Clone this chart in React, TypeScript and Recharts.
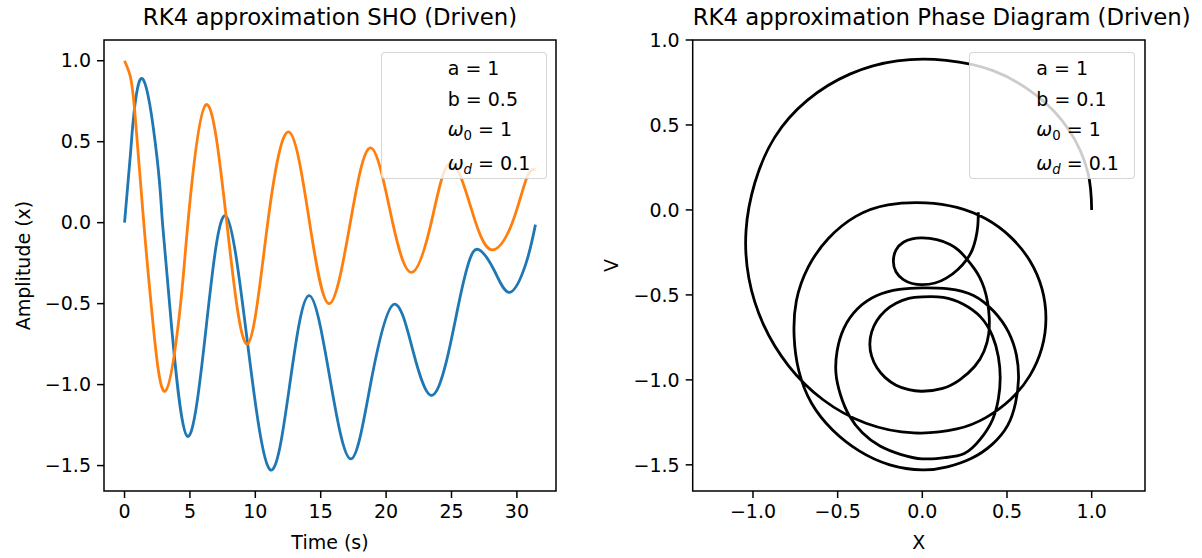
import { LineChart, Line, XAxis, YAxis, ReferenceArea } from 'recharts';

const FONT = '"DejaVu Sans", sans-serif';

// left panel: time series
const posTime = [0, 0.42, 0.8, 1.47, 2.15, 3.1, 4.22, 4.85, 6.23, 7.82, 9.39, 10.95, 12.58, 14.15, 15.66, 17.26, 18.85, 20.5, 21.96, 23.45, 25.0, 26.85, 28.25, 29.65, 30.75, 31.42];
const posAmp = [1.0, 0.91, 0.67, 0.0, -0.6, -1.041, -0.55, 0.0, 0.728, 0.0, -0.749, 0.0, 0.56, 0.0, -0.5, 0.0, 0.461, 0.0, -0.307, 0.0, 0.37, 0.0, -0.167, 0.0, 0.276, 0.327];

const velTime = [0, 0.47, 0.7, 1.44, 2.5, 2.9, 3.55, 4.8, 6.25, 7.72, 9.4, 11.12, 12.65, 14.1, 15.68, 17.29, 18.85, 20.55, 22.05, 23.41, 24.6, 25.5, 26.3, 27.1, 28.3, 29.47, 30.7, 31.42];
const velAmp = [0, 0.44, 0.66, 0.883, 0.39, 0.0, -0.6, -1.319, -0.64, 0.043, -0.74, -1.525, -0.99, -0.45, -0.95, -1.459, -0.98, -0.506, -0.79, -1.066, -0.86, -0.52, -0.25, -0.167, -0.3, -0.43, -0.25, -0.012];

// right panel: phase trajectory (X, V), in drawing order
const phaseX = [
  1.0, 0.978, 0.865, 0.67, 0.421, 0.141, -0.148, -0.428, -0.678, -0.872, -0.989, -1.041, -1.024, -0.938, -0.79, -0.586, -0.333, -0.051,
  0.204, 0.375, 0.522, 0.635, 0.706, 0.73, 0.706, 0.635, 0.522, 0.375, 0.204, 0.02,
  -0.203, -0.393, -0.555, -0.674, -0.744, -0.757, -0.729, -0.654, -0.53, -0.373, -0.192, 0.0,
  0.148, 0.288, 0.411, 0.504, 0.551, 0.568, 0.556, 0.509, 0.423, 0.302, 0.155, 0.0,
  -0.136, -0.268, -0.384, -0.464, -0.503, -0.51, -0.483, -0.433, -0.354, -0.25, -0.129, 0.0,
  0.13, 0.248, 0.345, 0.414, 0.449, 0.46, 0.449, 0.414, 0.345, 0.242, 0.123, 0.0,
  -0.08, -0.155, -0.219, -0.268, -0.299, -0.31, -0.299, -0.268, -0.219, -0.155, -0.08, 0.0,
  0.12, 0.223, 0.31, 0.365, 0.392, 0.395, 0.385, 0.365, 0.34, 0.31, 0.262, 0.215, 0.164, 0.085, 0.0,
  -0.06, -0.112, -0.155, -0.171, -0.155, -0.112, -0.06, 0.0, 0.075, 0.144, 0.21, 0.262, 0.295, 0.315, 0.327, 0.331,
];
const phaseV = [
  0.0, 0.219, 0.472, 0.677, 0.818, 0.88, 0.877, 0.799, 0.646, 0.427, 0.16, -0.121, -0.404, -0.675, -0.917, -1.117, -1.255, -1.312,
  -1.289, -1.222, -1.114, -0.975, -0.812, -0.637, -0.462, -0.299, -0.16, -0.052, 0.015, 0.042,
  0.03, -0.038, -0.168, -0.337, -0.536, -0.745, -0.948, -1.138, -1.295, -1.418, -1.5, -1.53,
  -1.512, -1.463, -1.381, -1.268, -1.133, -0.995, -0.856, -0.719, -0.598, -0.504, -0.465, -0.459,
  -0.468, -0.504, -0.583, -0.698, -0.829, -0.962, -1.089, -1.208, -1.311, -1.389, -1.438, -1.465,
  -1.458, -1.434, -1.346, -1.236, -1.113, -0.989, -0.864, -0.741, -0.631, -0.555, -0.515, -0.512,
  -0.521, -0.549, -0.593, -0.651, -0.718, -0.79, -0.862, -0.929, -0.987, -1.031, -1.058, -1.067,
  -1.05, -0.998, -0.92, -0.83, -0.73, -0.63, -0.54, -0.46, -0.4, -0.35, -0.288, -0.238, -0.203, -0.175, -0.165,
  -0.17, -0.19, -0.235, -0.302, -0.365, -0.41, -0.433, -0.44, -0.43, -0.4, -0.35, -0.292, -0.235, -0.17, -0.1, -0.014,
];

const timeTicks = [0, 5, 10, 15, 20, 25, 30];
const ampTicks = [-1.5, -1.0, -0.5, 0.0, 0.5, 1.0];
const phaseXTicks = [-1.0, -0.5, 0.0, 0.5, 1.0];
const phaseVTicks = [-1.5, -1.0, -0.5, 0.0, 0.5, 1.0];

const shoParams = [
  { sym: 'a', value: '1' },
  { sym: 'b', value: '0.5' },
  { sym: 'ω', sub: '0', value: '1' },
  { sym: 'ω', sub: 'd', value: '0.1' },
];
const phaseParams = [
  { sym: 'a', value: '1' },
  { sym: 'b', value: '0.1' },
  { sym: 'ω', sub: '0', value: '1' },
  { sym: 'ω', sub: 'd', value: '0.1' },
];

const posData = posTime.map((t, i) => ({ t, y: posAmp[i] }));
const velData = velTime.map((t, i) => ({ t, y: velAmp[i] }));
const phaseData = phaseX.map((x, i) => ({ x, v: phaseV[i] }));

const fmt1 = (v: number) => v.toFixed(1).replace('-', '\u2212');
const fmt0 = (v: number) => String(v);

const tickStyle = { fill: '#000', fontSize: 19, fontFamily: FONT };
const tickLine = { stroke: '#000', strokeWidth: 1.5 };

function Title({ left, width, text }: { left: number; width: number; text: string }) {
  return (
    <div
      style={{
        position: 'absolute',
        left,
        top: 6,
        width,
        textAlign: 'center',
        fontSize: 22.8,
        lineHeight: 1,
        whiteSpace: 'nowrap',
        color: '#000',
      }}
    >
      {text}
    </div>
  );
}

function ParamBox({ left, params }: { left: number; params: { sym: string; sub?: string; value: string }[] }) {
  return (
    <div
      style={{
        position: 'absolute',
        left,
        top: 51.7,
        width: 166,
        height: 127.6,
        boxSizing: 'border-box',
        background: 'rgba(255,255,255,0.8)',
        border: '1px solid rgba(204,204,204,0.8)',
        borderRadius: 4,
        paddingLeft: 66,
        paddingTop: 0.5,
        fontSize: 19,
        lineHeight: '30.5px',
        color: '#000',
        whiteSpace: 'nowrap',
      }}
    >
      {params.map((p, i) => (
        <div key={i}>
          <span style={{ fontStyle: p.sub ? 'italic' : 'normal' }}>{p.sym}</span>
          {p.sub && (
            <span
              style={{
                fontSize: '0.7em',
                position: 'relative',
                top: '0.3em',
                fontStyle: p.sub === 'd' ? 'italic' : 'normal',
              }}
            >
              {p.sub}
            </span>
          )}
          {' = ' + p.value}
        </div>
      ))}
    </div>
  );
}

export default function App() {
  return (
    <div
      style={{
        position: 'absolute',
        left: 0,
        top: 0,
        width: 1202,
        height: 558,
        background: '#fff',
        fontFamily: FONT,
        overflow: 'hidden',
      }}
    >
      {/* Time series */}
      <div style={{ position: 'absolute', left: 0, top: 0 }}>
        <LineChart width={600} height={558} margin={{ top: 40, right: 44, bottom: 0, left: 0 }}>
          <XAxis
            type="number"
            dataKey="t"
            domain={[-1.57, 32.99]}
            allowDataOverflow
            ticks={timeTicks}
            tickFormatter={fmt0}
            axisLine={false}
            tickLine={tickLine}
            tickSize={7}
            tickMargin={7}
            tick={tickStyle}
            height={67}
            label={{ value: 'Time (s)', position: 'insideBottom', offset: 9, fill: '#000', fontSize: 19 }}
          />
          <YAxis
            type="number"
            domain={[-1.657, 1.128]}
            allowDataOverflow
            ticks={ampTicks}
            tickFormatter={fmt1}
            axisLine={false}
            tickLine={tickLine}
            tickSize={7}
            tickMargin={6}
            tick={tickStyle}
            width={104}
            label={{
              value: 'Amplitude (x)',
              angle: -90,
              position: 'insideLeft',
              offset: 23,
              fill: '#000',
              fontSize: 19,
              style: { textAnchor: 'middle' },
            }}
          />
          <ReferenceArea
            x1={-1.57}
            x2={32.99}
            y1={-1.657}
            y2={1.128}
            fill="none"
            fillOpacity={0}
            stroke="#000"
            strokeWidth={1.5}
            ifOverflow="visible"
          />
          <Line
            data={velData}
            dataKey="y"
            type="natural"
            stroke="#1f77b4"
            strokeWidth={2.8}
            dot={false}
            activeDot={false}
            isAnimationActive={false}
          />
          <Line
            data={posData}
            dataKey="y"
            type="natural"
            stroke="#ff7f0e"
            strokeWidth={2.8}
            dot={false}
            activeDot={false}
            isAnimationActive={false}
          />
        </LineChart>
      </div>

      {/* Phase diagram */}
      <div style={{ position: 'absolute', left: 600, top: 0 }}>
        <LineChart width={602} height={558} margin={{ top: 40, right: 57, bottom: 0, left: 0 }}>
          <XAxis
            type="number"
            dataKey="x"
            domain={[-1.356, 1.315]}
            allowDataOverflow
            ticks={phaseXTicks}
            tickFormatter={fmt1}
            axisLine={false}
            tickLine={tickLine}
            tickSize={7}
            tickMargin={7}
            tick={tickStyle}
            height={67}
            label={{ value: 'X', position: 'insideBottom', offset: 9, fill: '#000', fontSize: 19 }}
          />
          <YAxis
            type="number"
            domain={[-1.654, 1.0]}
            allowDataOverflow
            ticks={phaseVTicks}
            tickFormatter={fmt1}
            axisLine={false}
            tickLine={tickLine}
            tickSize={7}
            tickMargin={6}
            tick={tickStyle}
            width={92.7}
            label={{
              value: 'V',
              angle: -90,
              position: 'insideLeft',
              offset: 11,
              fill: '#000',
              fontSize: 19,
              style: { textAnchor: 'middle' },
            }}
          />
          <ReferenceArea
            x1={-1.356}
            x2={1.315}
            y1={-1.654}
            y2={1.0}
            fill="none"
            fillOpacity={0}
            stroke="#000"
            strokeWidth={1.5}
            ifOverflow="visible"
          />
          <Line
            data={phaseData}
            dataKey="v"
            type="natural"
            stroke="#000"
            strokeWidth={2.8}
            dot={false}
            activeDot={false}
            isAnimationActive={false}
          />
        </LineChart>
      </div>

      <Title left={104} width={452} text="RK4 approximation SHO (Driven)" />
      <Title left={692.7} width={452.3} text="RK4 approximation Phase Diagram (Driven)" />
      <ParamBox left={380.7} params={shoParams} />
      <ParamBox left={969.3} params={phaseParams} />
    </div>
  );
}
